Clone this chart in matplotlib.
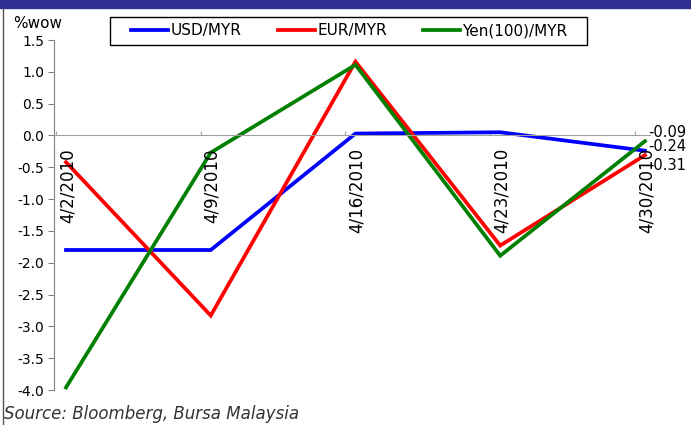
import matplotlib
matplotlib.use("Agg")
import matplotlib.pyplot as plt
import numpy as np

# weekly change, %wow
dates = ["4/2/2010", "4/9/2010", "4/16/2010", "4/23/2010", "4/30/2010"]
usd_myr = [-1.80, -1.80, 0.03, 0.05, -0.24]
eur_myr = [-0.42, -2.83, 1.16, -1.73, -0.31]
yen_myr = [-3.96, -0.27, 1.11, -1.89, -0.09]
end_labels = ["-0.09", "-0.24", "-0.31"]

plt.rcParams['font.family'] = ['DejaVu Sans']

fig = plt.figure(figsize=(6.91, 4.25), dpi=100)
ax = fig.add_axes([54 / 691, 1 - 390 / 425, (650 - 54) / 691, 350 / 425])

x = np.arange(len(dates))
ax.plot(x, usd_myr, color='#0000FF', lw=2.7, label='USD/MYR', solid_joinstyle='miter')
ax.plot(x, eur_myr, color='#FF0000', lw=2.7, label='EUR/MYR', solid_joinstyle='miter')
ax.plot(x, yen_myr, color='#008000', lw=2.7, label='Yen(100)/MYR', solid_joinstyle='miter')

ax.set_xlim(-0.083, 4.035)
ax.set_ylim(-4.0, 1.5)
ax.set_yticks(np.arange(-4.0, 1.51, 0.5))
ax.set_yticklabels(["%.1f" % v for v in np.arange(-4.0, 1.51, 0.5)], fontsize=10)

# category axis sits on the zero line
ax.spines['bottom'].set_position(('data', 0))
ax.spines['bottom'].set_color('#A0A0A0')
ax.spines['left'].set_color('#808080')
ax.spines['top'].set_visible(False)
ax.spines['right'].set_visible(False)
ax.set_xticks(x - 0.07)
ax.set_xticklabels([])
ax.tick_params(axis='x', direction='in', length=3, color='#A0A0A0')
ax.tick_params(axis='y', direction='out', length=4, color='#808080', pad=3)

for i, d in enumerate(dates):
    ax.text(i + 0.01, -0.2, d, rotation=90, ha='center', va='top', fontsize=12)

# last values at the right end
label_y = [0.04, -0.17, -0.47]
for lab, yy in zip(end_labels, label_y):
    ax.text(4.025, yy, lab, ha='left', va='center', fontsize=10.5, clip_on=False)

leg = fig.legend(loc='center left', bbox_to_anchor=(131 / 691, 1 - 31 / 425), ncol=3,
                 fontsize=11, frameon=False, borderpad=0, borderaxespad=0,
                 handlelength=2.45, handletextpad=0.15, columnspacing=2.35)
fig.patches.append(plt.Rectangle((110 / 691, 1 - 45 / 425), 477 / 691, 28 / 425,
                                 transform=fig.transFigure, fill=False,
                                 edgecolor='black', lw=1.0))

fig.text(13 / 691, 1 - 23 / 425, "%wow", fontsize=11, va='center')
fig.text(4 / 691, 1 - 414 / 425, "Source: Bloomberg, Bursa Malaysia", fontsize=12,
         style='italic', color='#333333', va='center')

# header strip and left frame line
fig.patches.append(plt.Rectangle((0, 1 - 8 / 425), 1, 8 / 425, transform=fig.transFigure,
                                 color='#2E3192', zorder=0))
fig.lines.append(plt.Line2D([3 / 691, 3 / 691], [0, 1 - 8 / 425], transform=fig.transFigure,
                            color='#555555', lw=1))

fig.savefig("out.png", dpi=100)
